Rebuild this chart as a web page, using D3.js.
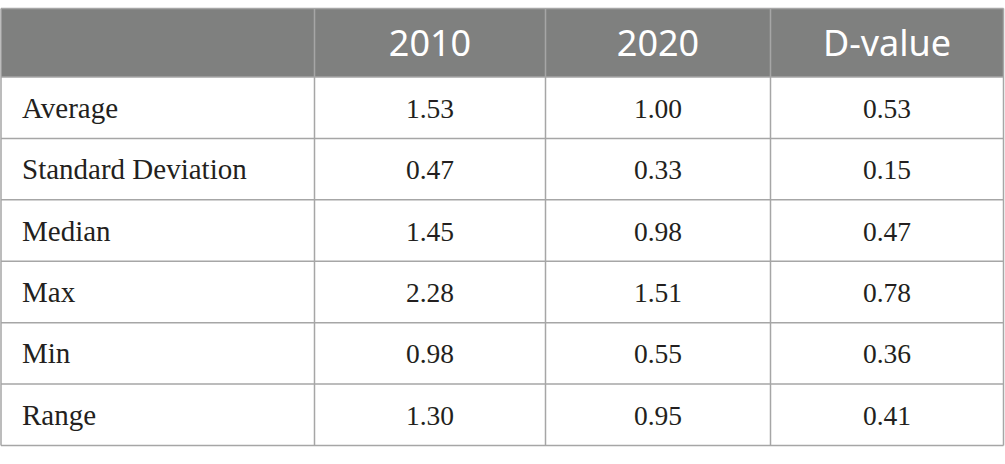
<!DOCTYPE html>
<html>
<head>
<meta charset="utf-8">
<script src="https://cdn.jsdelivr.net/npm/d3@7"></script>
<style>
  html, body { margin: 0; padding: 0; background: #fff; }
  svg { display: block; }
</style>
</head>
<body>
<svg id="chart" width="1005" height="464"></svg>
<script>
const columns = ["", "2010", "2020", "D-value"];
const rowLabels = ["Average", "Standard Deviation", "Median", "Max", "Min", "Range"];
const values2010 = ["1.53", "0.47", "1.45", "2.28", "0.98", "1.30"];
const values2020 = ["1.00", "0.33", "0.98", "1.51", "0.55", "0.95"];
const valuesD = ["0.53", "0.15", "0.47", "0.78", "0.36", "0.41"];

const svg = d3.select("#chart");
const tLeft = 1, tRight = 1003.5, tTop = 8.5, tHeaderBottom = 77, tBottom = 445.5;
const colEdges = [tLeft, 314.5, 545.5, 770.5, tRight];
const lineColor = "#a6a6a6";
const headerFill = "#7f807f";

const rowScale = d3.scaleBand().domain(d3.range(rowLabels.length)).range([tHeaderBottom, tBottom]);

// header background
svg.append("rect")
  .attr("x", tLeft).attr("y", tTop)
  .attr("width", tRight - tLeft).attr("height", tHeaderBottom - tTop)
  .attr("fill", headerFill);

// header text
svg.selectAll("text.head").data(columns.slice(1)).join("text")
  .attr("class", "head")
  .attr("x", (d, i) => (colEdges[i + 1] + colEdges[i + 2]) / 2)
  .attr("y", (tTop + tHeaderBottom) / 2 + 13.5)
  .attr("text-anchor", "middle")
  .attr("font-family", "'Noto Sans', 'Open Sans', sans-serif")
  .attr("font-weight", 400)
  .attr("font-size", 36)
  .attr("fill", "#fff")
  .text(d => d);

// body text
const table = rowLabels.map((r, i) => [r, values2010[i], values2020[i], valuesD[i]]);
const rows = svg.selectAll("g.row").data(table).join("g").attr("class", "row")
  .attr("transform", (d, i) => `translate(0,${rowScale(i) + rowScale.bandwidth() / 2})`);

rows.selectAll("text").data(d => d).join("text")
  .attr("x", (d, j) => j === 0 ? 22 : (colEdges[j] + colEdges[j + 1]) / 2)
  .attr("y", 10)
  .attr("text-anchor", (d, j) => j === 0 ? "start" : "middle")
  .attr("font-family", "'Liberation Serif', 'Times New Roman', serif")
  .attr("font-size", (d, j) => j === 0 ? 29 : 27.5)
  .attr("fill", "#231f20")
  .text(d => d);

// horizontal lines
const hLines = [tTop, tHeaderBottom].concat(d3.range(1, rowLabels.length).map(i => rowScale(i))).concat([tBottom]);
svg.selectAll("line.h").data(hLines).join("line")
  .attr("class", "h")
  .attr("x1", tLeft).attr("x2", tRight)
  .attr("y1", d => d).attr("y2", d => d)
  .attr("stroke", lineColor).attr("stroke-width", 1.5);

// vertical lines
svg.selectAll("line.v").data(colEdges).join("line")
  .attr("class", "v")
  .attr("x1", d => d).attr("x2", d => d)
  .attr("y1", tTop).attr("y2", tBottom)
  .attr("stroke", lineColor).attr("stroke-width", 1.5);
</script>
</body>
</html>
